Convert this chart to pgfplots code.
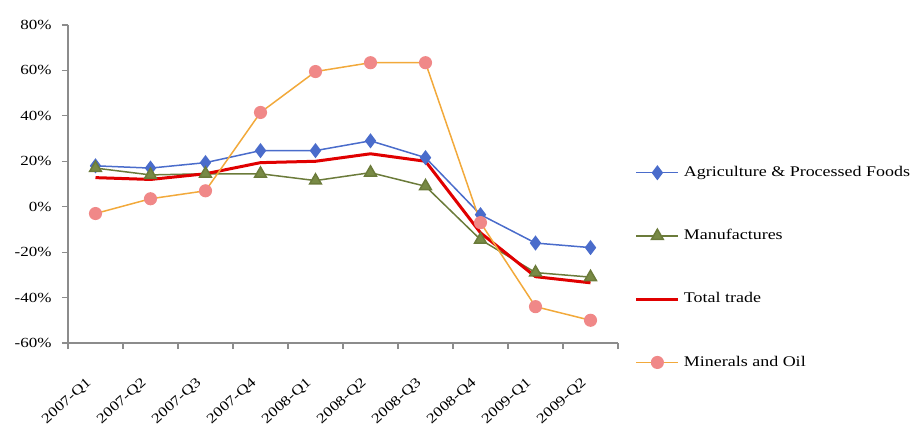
\documentclass[border=0pt]{standalone}
\usepackage{fontspec}
\setmainfont{Liberation Serif}[FakeStretch=1.22]
\usepackage{pgfplots}
\pgfplotsset{compat=1.18}
\definecolor{agri}{HTML}{4A6CCB}
\definecolor{manu}{HTML}{6B7B3A}
\definecolor{manufill}{HTML}{788A45}
\definecolor{total}{HTML}{E00000}
\definecolor{minline}{HTML}{F2A93B}
\definecolor{minmark}{HTML}{F08888}
\definecolor{axgray}{HTML}{8C8C8C}
\begin{document}
\begin{tikzpicture}
\path[use as bounding box] (0,0) rectangle (457.5bp,215.5bp);
\begin{axis}[
  at={(34bp,44bp)}, anchor=south west,
  scale only axis, width=275bp, height=159bp,
  axis lines*=left,
  axis line style={axgray, line width=0.6bp},
  xmin=-0.5, xmax=9.5, ymin=-60, ymax=80,
  xtick={0,...,9},
  xticklabels={2007-Q1,2007-Q2,2007-Q3,2007-Q4,2008-Q1,2008-Q2,2008-Q3,2008-Q4,2009-Q1,2009-Q2},
  major x tick style={draw=none},
  minor xtick={-0.5,0.5,...,9.5},
  minor tick length=3bp,
  minor x tick style={axgray, line width=0.6bp},
  ytick={-60,-40,...,80},
  yticklabels={-60\%,-40\%,-20\%,0\%,20\%,40\%,60\%,80\%},
  y tick style={axgray, line width=0.6bp},
  major tick length=3bp,
  tick align=outside,
  tick label style={font=\fontsize{7}{8}\selectfont},
  xticklabel style={xshift=-5bp, yshift=-13bp, rotate=42, anchor=north east, inner sep=0.5bp},
  yticklabel style={inner sep=2bp, xshift=-3bp},
  clip=false,
  legend cell align=left,
  legend style={draw=none, fill=none, at={(rel axis cs:1.03,0.57)}, anchor=north west,
     font=\fontsize{7.4}{8.5}\selectfont, row sep=21bp, inner sep=0pt},
  legend image code/.code={\draw[mark repeat=2,mark phase=2] plot coordinates {(0cm,0cm)(0.37cm,0cm)(0.74cm,0cm)};},
]
\addplot[agri, line width=0.75bp, mark=diamond*, mark size=3.2bp, mark options={fill=agri, draw=agri}]
 coordinates {(0,18) (1,17) (2,19.4) (3,24.7) (4,24.7) (5,29) (6,21.6) (7,-3.5) (8,-16) (9,-18)};
\addlegendentry{Agriculture \& Processed Foods}
\addplot[manu, line width=0.75bp, mark=triangle*, mark size=3.4bp, mark options={fill=manufill, draw=manu}]
 coordinates {(0,17) (1,14) (2,14.5) (3,14.5) (4,11.5) (5,15) (6,9) (7,-14.5) (8,-29) (9,-31)};
\addlegendentry{Manufactures}
\addplot[total, line width=1.5bp, mark=none]
 coordinates {(0,12.8) (1,12) (2,14.5) (3,19.4) (4,20) (5,23.3) (6,20) (7,-11.5) (8,-30.8) (9,-33.5)};
\addlegendentry{Total trade}
\addplot[minline, line width=0.75bp, mark=*, mark size=2.9bp, mark options={fill=minmark, draw=minmark}]
 coordinates {(0,-3) (1,3.5) (2,7) (3,41.5) (4,59.5) (5,63.4) (6,63.4) (7,-7) (8,-44) (9,-50)};
\addlegendentry{Minerals and Oil}
\end{axis}
\end{tikzpicture}
\end{document}
